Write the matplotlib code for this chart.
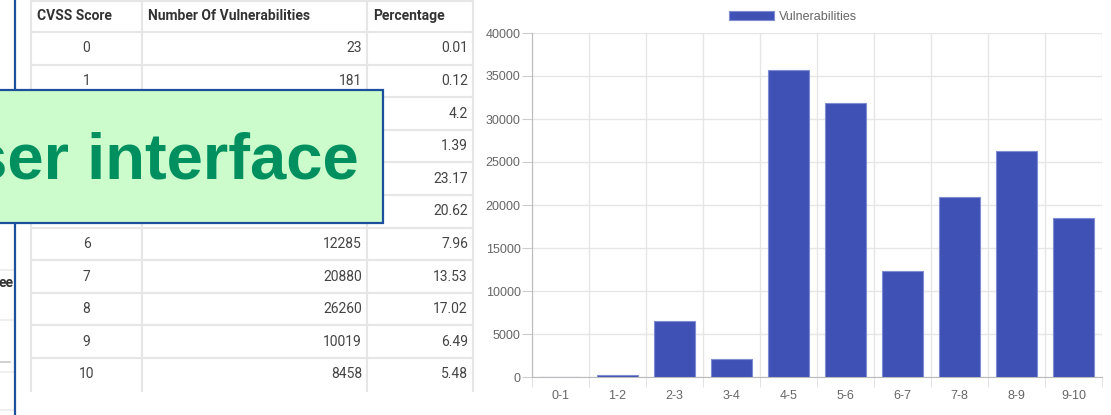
import numpy as np
import matplotlib
matplotlib.use("Agg")
import matplotlib.pyplot as plt
from matplotlib.patches import Rectangle

# table data (rows 2-5 of the count column sit under the overlay box)
scores = [0, 1, 2, 3, 4, 5, 6, 7, 8, 9, 10]
counts = [23, 181, 6481, 2145, 35751, 31817, 12285, 20880, 26260, 10019, 8458]
percents = ["0.01", "0.12", "4.2", "1.39", "23.17", "20.62",
            "7.96", "13.53", "17.02", "6.49", "5.48"]
headers = ["CVSS Score", "Number Of Vulnerabilities", "Percentage"]

# chart data
bins = ["0-1", "1-2", "2-3", "3-4", "4-5", "5-6", "6-7", "7-8", "8-9", "9-10"]
bin_counts = [23, 181, 6481, 2145, 35751, 31817, 12285, 20880, 26260, 18477]

W, H = 1111, 415
BAR = "#3f51b5"
GRID = "#e6e6e6"
BLUE = "#1c4f9c"

fig = plt.figure(figsize=(W / 100, H / 100), dpi=100)

# pixel-space overlay for the table and the callout box
ax0 = fig.add_axes([0, 0, 1, 1])
ax0.set_xlim(0, W)
ax0.set_ylim(H, 0)
ax0.axis("off")

box_x0, box_y0, box_x1, box_y1 = -5, 90, 383, 223

col_edges = [31, 142, 367, 473]
row_top = 32
row_h = 32.6
table_bottom = row_top + len(scores) * row_h


def hidden(x, y):
    # cell text that lies under the callout box is not drawn
    return x < box_x1 and box_y0 < y < box_y1


ax0.plot([col_edges[0], col_edges[-1]], [1, 1], color=GRID, lw=1.5)
for i in range(len(scores)):
    y = row_top + i * row_h
    ax0.plot([col_edges[0], col_edges[-1]], [y, y], color=GRID, lw=1.5)
for x in col_edges:
    ax0.plot([x, x], [1, table_bottom], color=GRID, lw=1.5)

for x, h in zip(col_edges[:-1], headers):
    ax0.text(x + 6, 16, h, ha="left", va="center", fontsize=10,
             fontweight="bold", color="#333333", family="Roboto")

for i, (s, c, p) in enumerate(zip(scores, counts, percents)):
    y = row_top + (i + 0.5) * row_h
    cells = [((col_edges[0] + col_edges[1]) / 2, str(s), "center"),
             (col_edges[2] - 5, str(c), "right"),
             (col_edges[3] - 5, p, "right")]
    for cx, txt, ha in cells:
        if hidden(cx, y):
            continue
        ax0.text(cx, y, txt, ha=ha, va="center", fontsize=10,
                 color="#444444", family="Roboto")

# strip of another panel on the far left
ax0.plot([15, 15], [0, H], color=BLUE, lw=1.6, zorder=4)
for y in [270, 320, 372, 410]:
    ax0.plot([0, 14], [y, y], color="#ececec", lw=1.2)
ax0.plot([0, 10], [362, 362], color="#c8c8c8", lw=1.2)
ax0.text(13.5, 283, "ee", ha="right", va="center", fontsize=10,
         fontweight="bold", color="#333333", family="Roboto")

# callout box
ax0.add_patch(Rectangle((box_x0, box_y0), box_x1 - box_x0, box_y1 - box_y0,
                        facecolor="#ccfccc", edgecolor=BLUE, lw=1.6, zorder=5))
ax0.text(359, 178, "User interface", ha="right", va="baseline",
         fontsize=47, fontweight="bold", color="#009060",
         family="Liberation Sans", zorder=6)

# bar chart
ax = fig.add_axes([532 / W, (H - 377) / H, 570 / W, 344 / H])
x = np.arange(len(bins))
ax.bar(x, bin_counts, width=0.72, color=BAR, edgecolor="#7f8bd3",
       linewidth=0.8, label="Vulnerabilities", zorder=3)
ax.set_xlim(-0.5, len(bins) - 0.5)
ax.set_ylim(0, 40000)
ax.set_yticks(np.arange(0, 40001, 5000))
ax.set_xticks(x)
ax.set_xticklabels(bins)
ax.set_xticks(np.arange(-0.5, len(bins), 1), minor=True)
ax.grid(which="minor", axis="x", color=GRID, lw=1)
ax.grid(which="major", axis="y", color=GRID, lw=1)
ax.set_axisbelow(True)

for lab in ax.get_xticklabels() + ax.get_yticklabels():
    lab.set_family("Liberation Sans")
ax.tick_params(axis="x", which="major", length=0, pad=9, labelsize=9,
               labelcolor="#666666")
ax.tick_params(axis="x", which="minor", length=7.2, color="#dddddd")
ax.tick_params(axis="y", length=7.2, color="#cccccc", pad=1, labelsize=9,
               labelcolor="#666666")
ax.spines["top"].set_visible(False)
ax.spines["right"].set_visible(False)
ax.spines["left"].set_color("#bbbbbb")
ax.spines["bottom"].set_color("#bbbbbb")

ax.legend(loc="center", bbox_to_anchor=(793 / W, 1 - 17 / H),
          bbox_transform=fig.transFigure, frameon=False, handlelength=3.6,
          handleheight=0.8, handletextpad=0.4,
          prop={"family": "Liberation Sans", "size": 9}, labelcolor="#666666")

fig.savefig("out.png", dpi=100)
